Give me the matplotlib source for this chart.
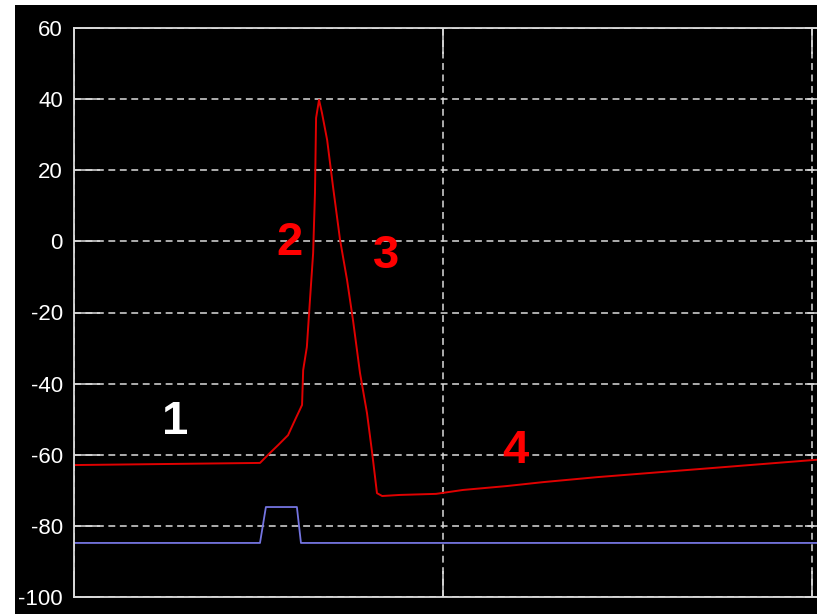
import matplotlib
matplotlib.use("Agg")
import matplotlib.pyplot as plt
from matplotlib.patches import Rectangle

# membrane potential trace (red)
v_t = [0.0, 5.04, 5.31, 5.53, 5.80, 5.99, 6.18, 6.21, 6.31, 6.40, 6.48, 6.53, 6.56, 6.64,
       6.72, 6.86, 7.02, 7.21, 7.40, 7.56, 7.75, 7.94, 8.08, 8.21, 8.35, 8.83, 9.81,
       10.54, 11.73, 12.71, 14.17, 20.5]
v_mv = [-62.9, -62.3, -59.5, -57.3, -54.5, -50.2, -46.0, -36.2, -29.7, -15.6, -3.3, 13.6, 34.7, 39.8,
        36.1, 28.5, 15.3, 0.4, -10.9, -22.1, -37.0, -48.3, -59.5, -70.8, -71.6, -71.3, -71.0,
        -69.9, -68.8, -67.7, -66.3, -61.1]

# stimulus trace (blue)
s_t = [0.0, 5.04, 5.2, 6.04, 6.15, 20.5]
s_v = [-84.8, -84.8, -74.7, -74.7, -84.8, -84.8]

# phase labels
lab_text = ["1", "2", "3", "4"]
lab_x = [2.74, 5.85, 8.46, 11.95]
lab_y = [-50.8, -0.5, -4.1, -59.0]
lab_col = ["white", "#ff0000", "#ff0000", "#ff0000"]

yticks = [-100, -80, -60, -40, -20, 0, 20, 40, 60]

W, H = 817, 614
fig = plt.figure(figsize=(W / 100, H / 100), dpi=100, facecolor="white")
fig.patches.append(Rectangle((15 / W, 0), 1, (H - 5) / H, transform=fig.transFigure,
                             facecolor="black", edgecolor="none", zorder=-10))

ax = fig.add_axes([74 / W, 17 / H, 756.5 / W, 569 / H])
ax.set_facecolor("black")

ax.plot(s_t, s_v, color="#7474e0", lw=1.3)
ax.plot(v_t, v_mv, color="#e00000", lw=1.4)

for t, x, y, c in zip(lab_text, lab_x, lab_y, lab_col):
    ax.text(x, y, t, color=c, fontsize=34, fontweight="bold", family="Liberation Sans",
            ha="center", va="center")

ax.set_xlim(0, 20.5)
ax.set_ylim(-100, 60)
ax.set_xticks([0, 10, 20])
ax.set_yticks(yticks)
ax.set_xticklabels([])
ax.set_yticklabels([str(v) for v in yticks], family="Liberation Sans", fontsize=16, color="white")

ax.tick_params(direction="in", length=19, width=1.1, color="#dcdcdc",
               top=True, right=True, bottom=True, left=True)
ax.tick_params(axis="y", pad=8)
for s in ax.spines.values():
    s.set_color("#dcdcdc")
    s.set_linewidth(1.3)

ax.grid(True, color="#dcdcdc", linestyle=(0, (4.5, 3)), linewidth=1.1)
ax.set_axisbelow(True)

fig.savefig("out.png", dpi=100, facecolor=fig.get_facecolor())
